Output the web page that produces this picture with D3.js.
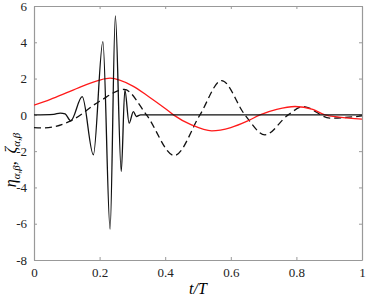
<!DOCTYPE html>
<html>
<head>
<meta charset="utf-8">
<script src="https://cdn.jsdelivr.net/npm/d3@7"></script>
<style>
  body { margin: 0; background: #fff; }
</style>
</head>
<body>
<div id="chart"></div>
<script>
// values (t/T, value)
const tSolid = [0, 0.06, 0.08, 0.095, 0.112, 0.147, 0.181, 0.210, 0.232, 0.248, 0.266, 0.277, 0.290, 0.303, 0.312, 0.325, 1];
const vSolid = [0, 0.03, 0.1, 0.05, -0.33, 1.0, -2.2, 4.04, -6.3, 5.45, -3.12, 1.38, -0.46, 0.18, -0.09, 0, 0];

const tDashed = [0, 0.03, 0.112, 0.2, 0.275, 0.343, 0.428, 0.506, 0.572, 0.643, 0.704, 0.775, 0.821, 0.902, 1];
const vDashed = [-0.7, -0.72, -0.33, 0.75, 1.4, 0, -2.24, 0, 1.89, 0, -1.1, 0, 0.46, -0.18, -0.06];

const tRed = [0, 0.05, 0.1, 0.15, 0.2, 0.232, 0.3, 0.35, 0.4, 0.425, 0.48, 0.542, 0.6, 0.65, 0.689, 0.74, 0.796, 0.85, 0.887, 0.93, 1];
const vRed = [0.53, 0.85, 1.22, 1.6, 1.92, 2.02, 1.6, 1.0, 0.35, 0, -0.55, -0.88, -0.7, -0.35, 0, 0.3, 0.46, 0.3, 0, -0.12, -0.24];

const xTicks = [0, 0.2, 0.4, 0.6, 0.8, 1];
const yTicks = [-8, -6, -4, -2, 0, 2, 4, 6];

const margin = {top: 6, right: 4, bottom: 39, left: 34};
const width = 366 - margin.left - margin.right;
const height = 299 - margin.top - margin.bottom;
const serif = "'Liberation Serif', 'DejaVu Serif', serif";

const svg = d3.select("#chart").append("svg")
    .attr("width", 366)
    .attr("height", 299)
  .append("g")
    .attr("transform", `translate(${margin.left},${margin.top})`);

const x = d3.scaleLinear().domain([0, 1]).range([0, width]);
const y = d3.scaleLinear().domain([-8, 6]).range([height, 0]);

const fmt = d => String(d);

// box with inward ticks on all sides
const axisColor = "#999";
const tl = 3;
const gx = svg.append("g").attr("transform", `translate(0,${height})`)
  .call(d3.axisBottom(x).tickValues(xTicks).tickSizeInner(-tl).tickSizeOuter(0).tickPadding(8).tickFormat(fmt));
const gxt = svg.append("g")
  .call(d3.axisTop(x).tickValues(xTicks).tickSizeInner(-tl).tickSizeOuter(0).tickFormat(""));
const gy = svg.append("g")
  .call(d3.axisLeft(y).tickValues(yTicks).tickSizeInner(-tl).tickSizeOuter(0).tickPadding(7).tickFormat(fmt));
const gyr = svg.append("g").attr("transform", `translate(${width},0)`)
  .call(d3.axisRight(y).tickValues(yTicks).tickSizeInner(-tl).tickSizeOuter(0).tickFormat(""));

[gx, gxt, gy, gyr].forEach(g => {
  g.attr("font-family", serif).attr("font-size", 13);
  g.select(".domain").attr("stroke", axisColor).attr("stroke-width", 1.2);
  g.selectAll(".tick line").attr("stroke", axisColor);
  g.selectAll(".tick text").attr("fill", "#222");
});

const line = d3.line()
  .x(d => x(d[0]))
  .y(d => y(d[1]))
  .curve(d3.curveMonotoneX);

const zip = (a, b) => a.map((t, i) => [t, b[i]]);

svg.append("clipPath").attr("id", "clip")
  .append("rect").attr("width", width).attr("height", height);

const plot = svg.append("g").attr("clip-path", "url(#clip)");

plot.append("path")
  .attr("d", line(zip(tDashed, vDashed)))
  .attr("fill", "none").attr("stroke", "#111").attr("stroke-width", 1.3)
  .attr("stroke-dasharray", "7,4");

plot.append("path")
  .attr("d", line(zip(tRed, vRed)))
  .attr("fill", "none").attr("stroke", "#ff1a1a").attr("stroke-width", 1.3);

plot.append("path")
  .attr("d", line(zip(tSolid, vSolid)))
  .attr("fill", "none").attr("stroke", "#111").attr("stroke-width", 1.3);

// axis labels
svg.append("text")
  .attr("x", width / 2)
  .attr("y", height + 34)
  .attr("text-anchor", "middle")
  .attr("font-family", serif)
  .attr("font-size", 16)
  .attr("font-style", "italic")
  .text("t/T");

const yl = svg.append("text")
  .attr("transform", `translate(-18,${height / 2 + 27}) rotate(-90)`)
  .attr("text-anchor", "middle")
  .attr("font-family", serif)
  .attr("font-size", 16)
  .attr("font-style", "italic");
yl.append("tspan").text("η");
yl.append("tspan").attr("dy", 4).attr("font-size", 11).text("α,β");
yl.append("tspan").attr("dy", -4).attr("font-style", "normal").text(",\u00a0\u00a0");
yl.append("tspan").text("ζ");
yl.append("tspan").attr("dy", 4).attr("font-size", 11).text("α,β");
</script>
</body>
</html>
